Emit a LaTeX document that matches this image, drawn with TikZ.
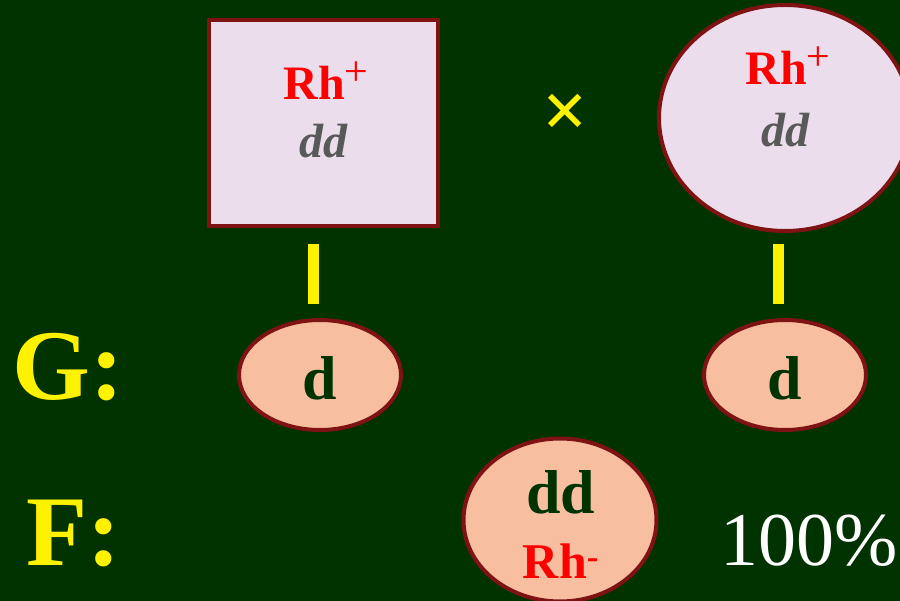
\documentclass[tikz,border=0pt]{standalone}
\usepackage{fontspec}
\setmainfont{Liberation Serif}
\usetikzlibrary{shapes.geometric}
\definecolor{board}{HTML}{003300}
\definecolor{rim}{HTML}{7F1212}
\definecolor{lilac}{HTML}{EBDDEB}
\definecolor{peach}{HTML}{F7BFA0}
\definecolor{ink}{HTML}{595959}
\newcommand{\rhplus}{\raisebox{14pt}{\fontsize{42}{48}\mdseries +}}
\begin{document}
\begin{tikzpicture}[x=1pt,y=-1pt,inner sep=0pt,
    parent/.style={draw=rim,line width=4pt,fill=lilac},
    gamete/.style={ellipse,draw=rim,line width=4pt,fill=peach,minimum width=162pt,minimum height=110pt},
    link/.style={yellow,line width=11pt},
    rh/.style={anchor=base,red,font=\fontsize{48}{58}\bfseries},
    gen/.style={anchor=base,ink,font=\fontsize{48}{58}\bfseries\itshape},
    allele/.style={anchor=base,board,font=\fontsize{62}{72}\bfseries},
    row/.style={anchor=base west,yellow,font=\fontsize{100}{110}\bfseries}]
  \useasboundingbox (0,0) rectangle (900,601);
  \fill[board] (0,0) rectangle (900,601);
  % parents
  \node[parent,minimum width=229pt,minimum height=206pt] (pf) at (323.5,123) {};
  \node[parent,ellipse,minimum width=252pt,minimum height=226pt] (pm) at (785,118) {};
  \node[rh] (pfrh) at (326,100) {Rh\rhplus};
  \node[gen] (pfg) at (323,158) {dd};
  \node[rh] (pmrh) at (788,85) {Rh\rhplus};
  \node[gen] (pmg) at (785,147) {dd};
  \node[anchor=center,yellow,font=\fontsize{80}{90}\bfseries] (cross) at (565,116) {×};
  % gametes
  \node[gamete] (gl) at (320,375) {};
  \node[gamete] (gr) at (785,375) {};
  \node[allele] (gld) at (320,400) {d};
  \node[allele] (grd) at (785,400) {d};
  \draw[link,shorten <=16pt,shorten >=14pt] ([xshift=-10.5pt]pf.south) -- ([xshift=-7pt]gl.north);
  \draw[link,shorten <=11pt,shorten >=14pt] ([xshift=-7pt]pm.south) -- ([xshift=-7pt]gr.north);
  % offspring
  \node[ellipse,draw=rim,line width=4pt,fill=peach,minimum width=193pt,minimum height=163pt] (kid) at (560,520) {};
  \node[allele] (kidg) at (561,513) {dd};
  \node[rh,font=\fontsize{50}{60}\bfseries] (kidrh) at (561,578) {Rh\textsuperscript{-}};
  \node[anchor=base,white,font=\fontsize{76}{86}\selectfont] (pct) at (809.5,565) {100\%};
  % rows
  \node[row] (grow) at (12,400) {G:};
  \node[row] (frow) at (26,565) {F:};
\end{tikzpicture}
\end{document}
